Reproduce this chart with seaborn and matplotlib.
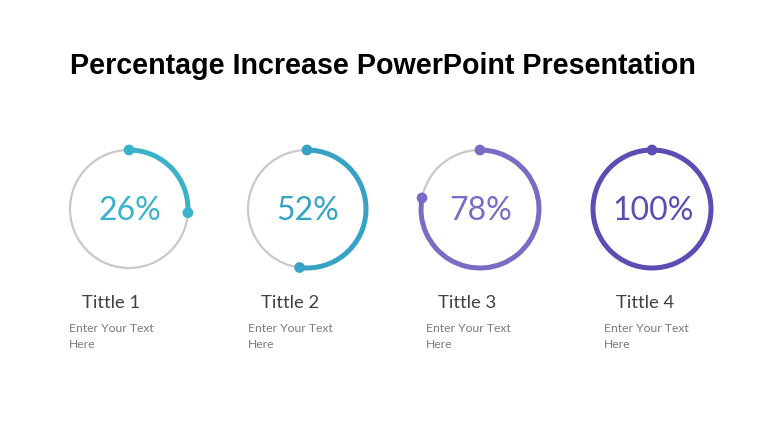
import matplotlib
matplotlib.use("Agg")
import matplotlib.pyplot as plt
from matplotlib.patches import Arc
import numpy as np
import pandas as pd
import seaborn as sns

# ---- data ----
titles = ["Tittle 1", "Tittle 2", "Tittle 3", "Tittle 4"]
values = [26, 52, 78, 100]
labels = ["26%", "52%", "78%", "100%"]
body = ["Enter Your Text\nHere"] * 4
colors = ["#3BB2CA", "#36A3C4", "#7A6BC5", "#5B4DB3"]

sns.set_theme(style="white")
plt.rcParams["font.family"] = ["Liberation Sans", "DejaVu Sans"]

W, H = 768, 432
fig = plt.figure(figsize=(7.68, 4.32), dpi=100)
ax = fig.add_axes([0, 0, 1, 1])
ax.set_xlim(0, W)
ax.set_ylim(0, H)
ax.set_aspect("equal")
ax.axis("off")

centers_x = [129, 307, 480, 652]
title_x = [82, 261, 438, 616]
body_x = [69, 248, 426, 604]
cy = H - 209
r = 59

ends = []
for i, v in enumerate(values):
    cx = centers_x[i]
    ax.add_patch(Arc((cx, cy), 2 * r, 2 * r, theta1=0, theta2=360,
                     color="#C9C9C9", lw=1.6, zorder=1))
    t1 = 90 - 360 * v / 100
    ax.add_patch(Arc((cx, cy), 2 * r, 2 * r, theta1=t1, theta2=90,
                     color=colors[i], lw=3.6, zorder=2))
    a = np.deg2rad(t1)
    ends.append(dict(x=cx, y=cy + r, c=i))
    if v < 100:
        ends.append(dict(x=cx + r * np.cos(a), y=cy + r * np.sin(a), c=i))
    ax.text(cx + 1, cy - 2, labels[i], ha="center", va="center", fontsize=23,
            color=colors[i], family=["Lato", "DejaVu Sans"])
    ax.text(title_x[i], H - 303, titles[i], ha="left", va="center", fontsize=13.3,
            color="#404040", family=["Lato", "DejaVu Sans"])
    ax.text(body_x[i], H - 336.5, body[i], ha="left", va="center", fontsize=8.7,
            color="#7A7A7A", family=["Lato", "DejaVu Sans"], linespacing=1.6)

df = pd.DataFrame(ends)
sns.scatterplot(data=df, x="x", y="y", hue="c", palette=colors, s=60,
                edgecolor="none", legend=False, ax=ax, zorder=3)

ax.text(W / 2 - 1, H - 66, "Percentage Increase PowerPoint Presentation",
        ha="center", va="center", fontsize=20.6, fontweight="bold", color="black")

fig.savefig("out.png", dpi=100)
